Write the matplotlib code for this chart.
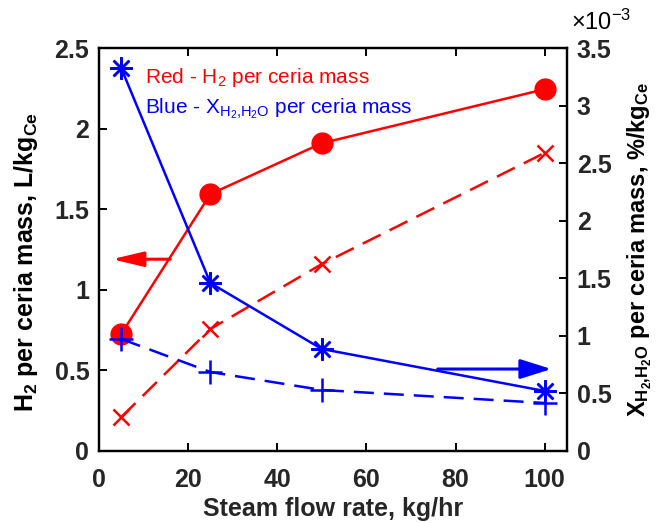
import matplotlib
matplotlib.use("Agg")
import matplotlib.pyplot as plt
from matplotlib.ticker import FuncFormatter

plt.rcParams["font.family"] = ["Liberation Sans", "DejaVu Sans"]
plt.rcParams["mathtext.fontset"] = "custom"
plt.rcParams["mathtext.rm"] = "Liberation Sans"
plt.rcParams["mathtext.it"] = "Liberation Sans"
plt.rcParams["mathtext.bf"] = "Liberation Sans:bold"

# data
steam_flow = [5, 25, 50, 100]
h2_solid = [0.726, 1.594, 1.91, 2.245]
h2_dashed = [0.21, 0.757, 1.16, 1.85]
x_solid = [3.326e-3, 1.459e-3, 0.886e-3, 0.521e-3]
x_dashed = [0.973e-3, 0.686e-3, 0.53e-3, 0.417e-3]

left_ticks = [0, 0.5, 1, 1.5, 2, 2.5]
right_ticks = [0, 0.5e-3, 1e-3, 1.5e-3, 2e-3, 2.5e-3, 3e-3, 3.5e-3]
x_ticks = [0, 20, 40, 60, 80, 100]

tick_col = "#262626"
fs = 18
lw = 1.8

fig = plt.figure(figsize=(6.67, 5.23), dpi=100)
ax = fig.add_axes([0.1484, 0.1377, 0.7016, 0.7703])
ax2 = ax.twinx()

ax.plot(steam_flow, h2_solid, "-o", color="red", lw=lw, ms=15)
ax.plot(steam_flow, h2_dashed, "--x", color="red", lw=lw, ms=11, mew=1.8,
        dashes=(8, 4))
ax2.plot(steam_flow, x_solid, "-", color="blue", lw=lw, marker=(8, 2, 0),
         ms=16, mew=1.8)
ax2.plot(steam_flow, x_dashed, "--+", color="blue", lw=lw, ms=17, mew=1.8,
         dashes=(8, 4))

ax.set_xlim(0, 105)
ax.set_ylim(0, 2.5)
ax2.set_ylim(0, 3.5e-3)
ax.set_xticks(x_ticks)
ax.set_yticks(left_ticks)
ax2.set_yticks(right_ticks)
ax.yaxis.set_major_formatter(FuncFormatter(lambda v, p: f"{v:g}"))
ax2.yaxis.set_major_formatter(FuncFormatter(lambda v, p: f"{v * 1e3:g}"))

for a in (ax, ax2):
    a.tick_params(direction="in", length=6, width=1.4, labelsize=fs,
                  labelcolor=tick_col, pad=7)
    for lab in a.get_xticklabels() + a.get_yticklabels():
        lab.set_fontweight("bold")
    for s in a.spines.values():
        s.set_linewidth(1.6)
ax.tick_params(top=True)
ax.tick_params(axis="x", pad=12)

# scale factor for the right axis
ax.text(1.008, 1.045, r"$\times10^{-3}$", transform=ax.transAxes,
        fontsize=17, ha="left", va="baseline")

ax.set_xlabel("Steam flow rate, kg/hr", fontsize=fs, fontweight="bold",
              color=tick_col)
ax.xaxis.set_label_coords(0.5, -0.115)
ax.set_ylabel(r"H$_\mathbf{2}$ per ceria mass, L/kg$_\mathbf{Ce}$",
              fontsize=fs, fontweight="bold")
ax.yaxis.set_label_coords(-0.125, 0.47)
ax2.set_ylabel(r"X$_\mathbf{H_2{,}H_2O}$ per ceria mass, %/kg$_\mathbf{Ce}$",
               fontsize=17, fontweight="bold", rotation=90)
ax2.yaxis.set_label_coords(1.125, 0.5)

ax.text(10.3, 2.283, r"Red - H$_2$ per ceria mass", color="red", fontsize=15,
        ha="left", va="baseline")
ax.text(10.3, 2.097, r"Blue - X$_{H_2{,}H_2O}$ per ceria mass", color="blue",
        fontsize=15, ha="left", va="baseline")

ax.annotate("", xy=(2.9, 1.19), xytext=(16, 1.19),
            arrowprops=dict(arrowstyle="-|>,head_length=1.9,head_width=0.45",
                            color="red", lw=2.2, shrinkA=0, shrinkB=0))
ax2.annotate("", xy=(101.5, 0.712e-3), xytext=(76, 0.712e-3),
             arrowprops=dict(arrowstyle="-|>,head_length=1.9,head_width=0.6",
                             color="blue", lw=2.2, shrinkA=0, shrinkB=0))

fig.savefig("out.png", dpi=100)
